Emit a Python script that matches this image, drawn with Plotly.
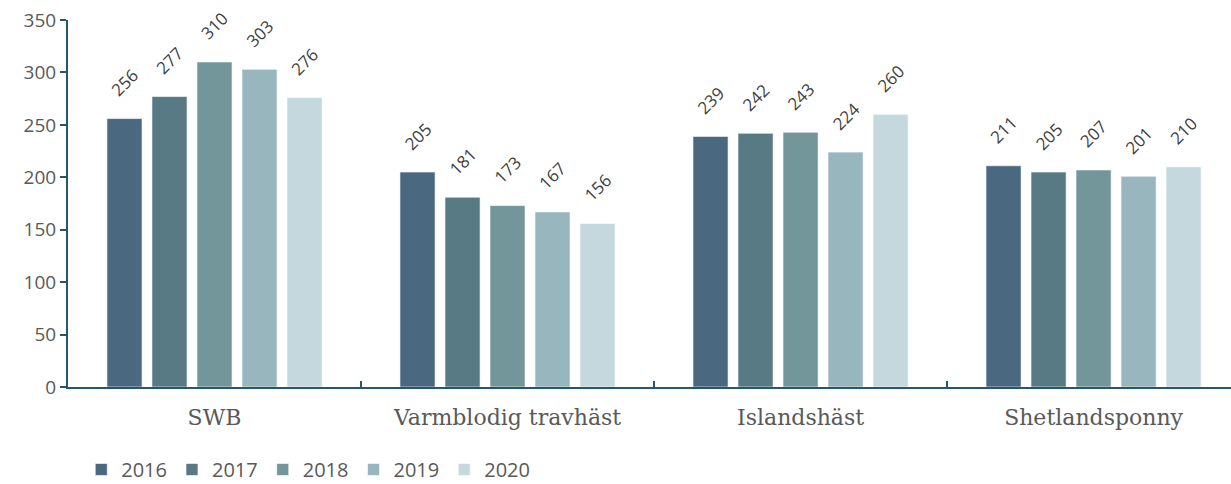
import plotly.graph_objects as go

categories = ["SWB", "Varmblodig travhäst", "Islandshäst", "Shetlandsponny"]
years = ["2016", "2017", "2018", "2019", "2020"]
values = {
    "2016": [256, 205, 239, 211],
    "2017": [277, 181, 242, 205],
    "2018": [310, 173, 243, 207],
    "2019": [303, 167, 224, 201],
    "2020": [276, 156, 260, 210],
}
colors = ["#4a6880", "#587a84", "#72969a", "#97b6bd", "#c5d8de"]

axis_color = "#24586a"
text_color = "#595959"

W, H = 1231, 484
ML, MR, MT, MB = 68, 0, 20, 97
BARGAP = 0.232
xrange_ = [-0.5, 3.469]
cat_px = (W - ML - MR) / (xrange_[1] - xrange_[0])
slot_px = cat_px * (1 - BARGAP) / len(years)

fig = go.Figure()
annotations = []
for i, (y, c) in enumerate(zip(years, colors)):
    fig.add_trace(go.Bar(
        name=y, x=categories, y=values[y],
        marker=dict(color=c, line=dict(color="rgba(255,255,255,0.6)", width=1)),
    ))
    for cat, v in zip(categories, values[y]):
        annotations.append(dict(
            x=cat, y=v, xref="x", yref="y", text=str(v), showarrow=False,
            textangle=-45, xanchor="center", yanchor="middle",
            xshift=(i - (len(years) - 1) / 2) * slot_px, yshift=36,
            font=dict(family="Open Sans", size=17, color="#404040"),
        ))

fig.update_layout(
    width=W, height=H,
    barmode="group", bargap=BARGAP, bargroupgap=0.22,
    plot_bgcolor="white", paper_bgcolor="white",
    margin=dict(l=ML, r=MR, t=MT, b=MB),
    font=dict(family="Open Sans", color=text_color),
    showlegend=True,
    legend=dict(
        orientation="h", x=0.066, xref="container", y=0.03, yref="container",
        xanchor="left", yanchor="middle",
        font=dict(family="Open Sans", size=20, color=text_color),
        traceorder="normal", itemwidth=30,
    ),
    annotations=annotations,
)
fig.update_xaxes(
    type="category", range=xrange_,
    showline=True, linecolor=axis_color, linewidth=2,
    ticks="inside", tickson="boundaries", ticklen=6, tickcolor=axis_color, tickwidth=2,
    tickfont=dict(family="DejaVu Serif", size=22, color=text_color),
    ticklabelstandoff=10,
    showgrid=False,
)
fig.update_yaxes(
    range=[0, 350], dtick=50,
    showline=True, linecolor=axis_color, linewidth=2,
    ticks="outside", ticklen=6, tickcolor=axis_color, tickwidth=2,
    tickfont=dict(family="Open Sans", size=19, color=text_color),
    showgrid=False, zeroline=False,
)

fig.write_html("out.html", config={"displayModeBar": False},
               post_script="document.body.style.margin='0';")
